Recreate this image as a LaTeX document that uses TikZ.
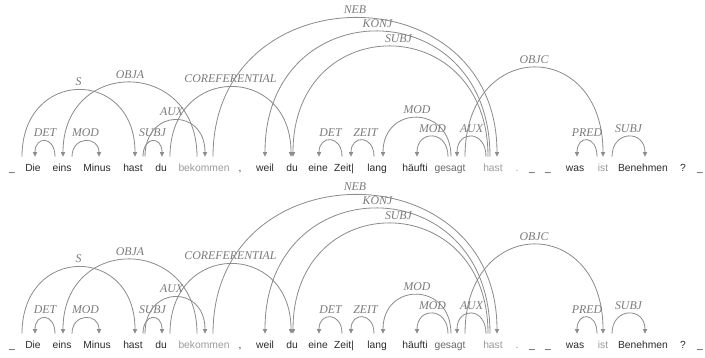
\documentclass[tikz,border=0pt]{standalone}
\usepackage{fontspec}
\setmainfont{Liberation Serif}
\setsansfont{Liberation Sans}
\usetikzlibrary{arrows.meta, calc}

\definecolor{arcgray}{HTML}{8C8C8C}
\definecolor{lblgray}{HTML}{7A7A7A}
\definecolor{darkword}{HTML}{2B2B2B}
\definecolor{midword}{HTML}{6A6A6A}
\definecolor{lightword}{HTML}{9A9A9A}

\tikzset{
  word/.style={anchor=base, inner sep=0pt, text height=12pt, text depth=3pt,
    font=\sffamily\fontsize{8.8}{10}\selectfont, text=darkword},
  dep/.style={draw=arcgray, line width=0.7pt, -{Triangle[length=4pt,width=3.6pt]}},
  lbl/.style={pos=0.5, anchor=base, yshift=3.4pt, inner sep=0pt,
    font=\itshape\fontsize{10.1}{11}\selectfont, text=lblgray},
}

\begin{document}
\begin{tikzpicture}[x=0.3mm, y=0.3mm]
  \useasboundingbox (0,0) rectangle (705,357);
  \foreach \dy in {0,-177} {
  \begin{scope}[shift={(0,\dy)}]
    % ---------------- words
    \node[word] (r0) at (12,186) {\_};
    \node[word] (die) at (33,186) {Die};
    \node[word] (eins) at (62,186) {eins};
    \node[word] (minus) at (97,186) {Minus};
    \node[word] (hast) at (133,186) {hast};
    \node[word] (du) at (161,186) {du};
    \node[word, text=lightword] (bekommen) at (204,186) {bekommen};
    \node[word] (comma) at (240,186) {,};
    \node[word] (weil) at (265,186) {weil};
    \node[word] (duB) at (292,186) {du};
    \node[word] (eine) at (318,186) {eine};
    \node[word] (zeit) at (344,186) {Zeit|};
    \node[word] (lang) at (377,186) {lang};
    \node[word] (haeufti) at (415,186) {häufti};
    \node[word, text=midword] (gesagt) at (450,186) {gesagt};
    \node[word, text=lightword] (hastB) at (493,186) {hast};
    \node[word, text=lightword] (stop) at (517,186) {.};
    \node[word] (r1) at (532,186) {\_};
    \node[word] (r2) at (548,186) {\_};
    \node[word] (was) at (575,186) {was};
    \node[word, text=lightword] (ist) at (603,186) {ist};
    \node[word] (benehmen) at (643,186) {Benehmen};
    \node[word] (qmark) at (683,186) {?};
    \node[word] (r3) at (700,186) {\_};
    % ---------------- arcs, first clause
    \draw[dep] ($(eins.north)+(-7,0)$) .. controls +(0,21) and +(0,21) .. ($(die.north)+(2,0)$) node[lbl] {DET};
    \draw[dep] ($(eins.north)+(10,0)$) .. controls +(0,21) and +(0,21) .. ($(minus.north)+(2,0)$) node[lbl] {MOD};
    \draw[dep] ($(r0.north)+(10,0)$) .. controls +(0,89) and +(0,89) .. ($(hast.north)+(2,0)$) node[lbl] {S};
    \draw[dep] ($(bekommen.north)+(-7,0)$) .. controls +(0,99) and +(0,99) .. ($(eins.north)+(1,0)$) node[lbl] {OBJA};
    \draw[dep] ($(hast.north)+(10,0)$) .. controls +(0,21) and +(0,21) .. ($(du.north)+(1,0)$) node[lbl] {SUBJ};
    \draw[dep] ($(hast.north)+(12,0)$) .. controls +(0,49) and +(0,49) .. ($(bekommen.north)+(1,0)$) node[lbl, xshift=-1mm] {AUX};
    \draw[dep] ($(du.north)+(9,0)$) .. controls +(0,93) and +(0,93) .. ($(duB.north)+(-1,0)$) node[lbl] {COREFERENTIAL};
    % ---------------- arcs, weil clause
    \draw[dep] ($(bekommen.north)+(9,0)$) .. controls +(0,185) and +(0,185) .. ($(hastB.north)+(4,0)$) node[lbl] {NEB};
    \draw[dep] ($(hastB.north)+(-3,0)$) .. controls +(0,167) and +(0,167) .. (weil.north) node[lbl] {KONJ};
    \draw[dep] ($(hastB.north)+(-5,0)$) .. controls +(0,147) and +(0,147) .. ($(duB.north)+(1,0)$) node[lbl, xshift=2.4mm] {SUBJ};
    \draw[dep] ($(zeit.north)+(-2,0)$) .. controls +(0,22) and +(0,22) .. ($(eine.north)+(1,0)$) node[lbl] {DET};
    \draw[dep] ($(lang.north)+(-3,0)$) .. controls +(0,22) and +(0,22) .. ($(zeit.north)+(7,0)$) node[lbl, xshift=0.9mm] {ZEIT};
    \draw[dep] ($(gesagt.north)+(1,0)$) .. controls +(0,52) and +(0,52) .. ($(lang.north)+(6,0)$) node[lbl] {MOD};
    \draw[dep] ($(gesagt.north)+(-2,0)$) .. controls +(0,27) and +(0,27) .. ($(haeufti.north)+(2,0)$) node[lbl] {MOD};
    \draw[dep] ($(hastB.north)+(-7,0)$) .. controls +(0,27) and +(0,27) .. ($(gesagt.north)+(7,0)$) node[lbl] {AUX};
    % ---------------- arcs, last clause
    \draw[dep] ($(gesagt.north)+(15,0)$) .. controls +(0,119) and +(0,119) .. (ist.north) node[lbl] {OBJC};
    \draw[dep] ($(ist.north)+(-6,0)$) .. controls +(0,22) and +(0,22) .. ($(was.north)+(2,0)$) node[lbl] {PRED};
    \draw[dep] ($(ist.north)+(9,0)$) .. controls +(0,27) and +(0,27) .. ($(benehmen.north)+(2,0)$) node[lbl] {SUBJ};
  \end{scope}
  }
\end{tikzpicture}
\end{document}
